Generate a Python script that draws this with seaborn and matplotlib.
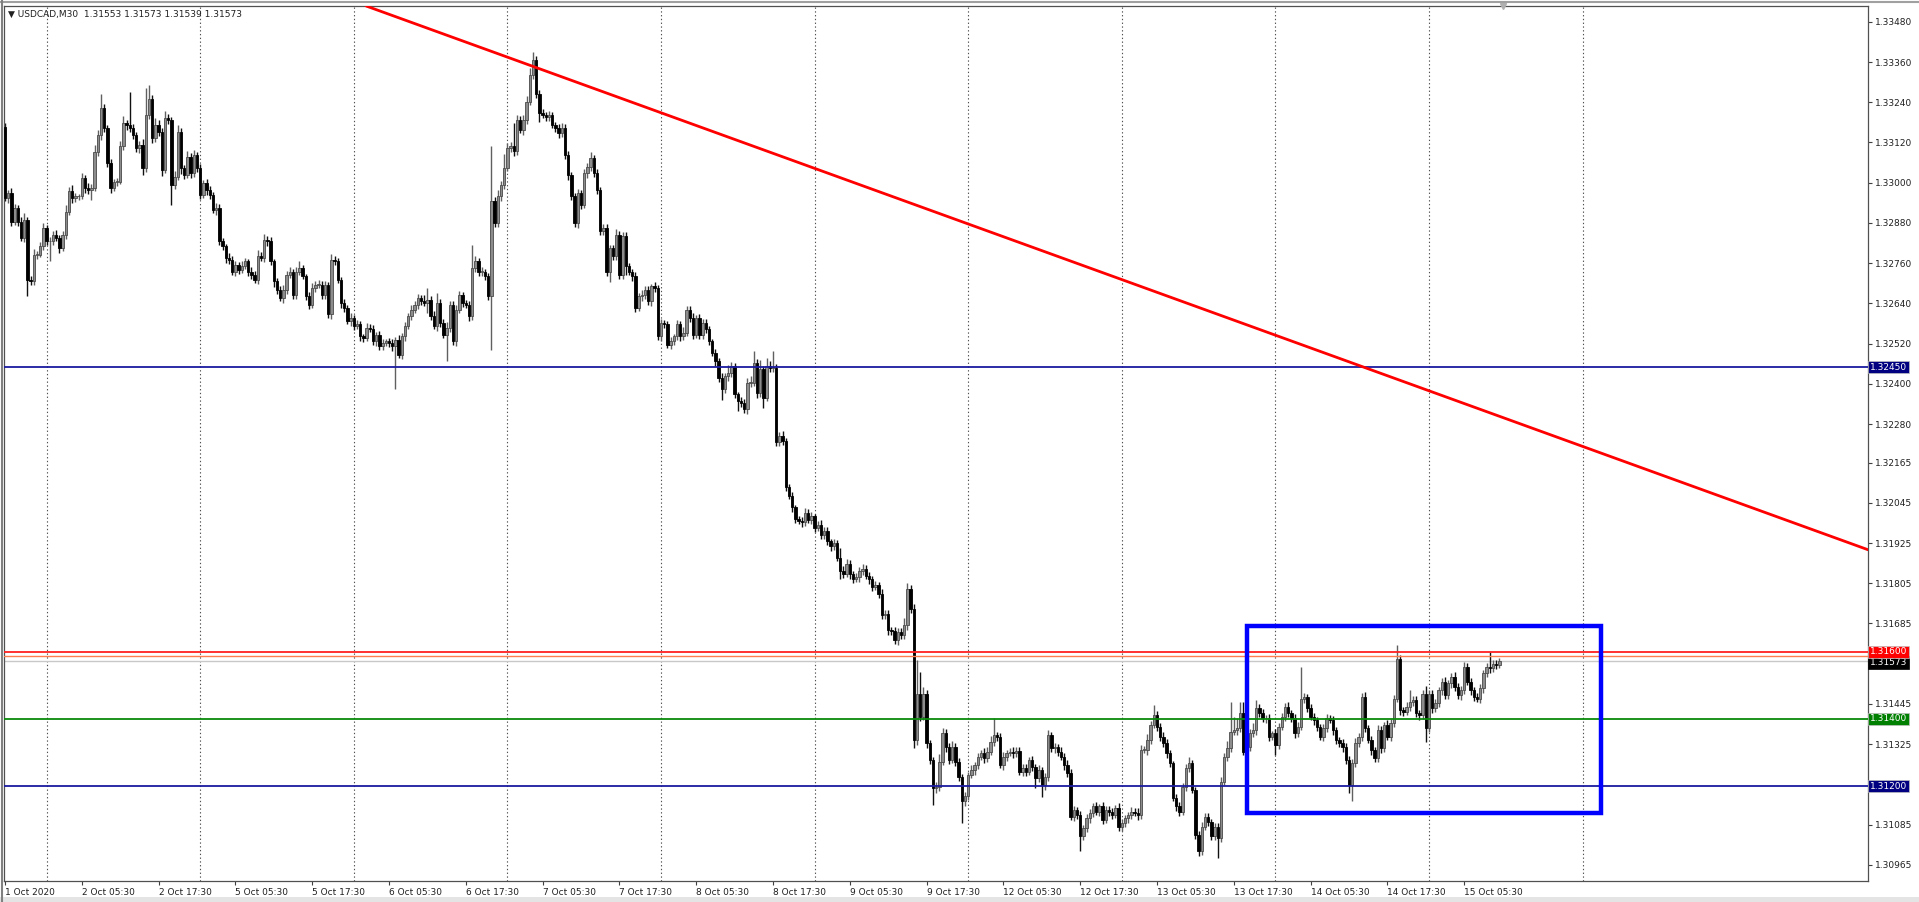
import numpy as np
import pandas as pd
import matplotlib
matplotlib.use("Agg")
import matplotlib.pyplot as plt
import matplotlib.transforms as mtransforms
from matplotlib.patches import Rectangle
import seaborn as sns

# prices are stored as points (1e-5) above 1.30000
BASE = 1.30000
PT = 1e-5
OPEN0 = 3167

CLOSE = [
    2954, 2969, 2884, 2924, 2884, 2835, 2889, 2711, 2706, 2785,
    2785, 2810, 2865, 2825, 2825, 2845, 2835, 2805, 2845, 2914,
    2974, 2954, 2959, 2959, 3013, 2984, 2979, 2984, 3093, 3142,
    3222, 3162, 3058, 2984, 3003, 3003, 3108, 3177, 3172, 3162,
    3142, 3103, 3113, 3043, 3202, 3251, 3132, 3172, 3152, 3038,
    3192, 3187, 2994, 3018, 3152, 3043, 3023, 3078, 3028, 3083,
    3043, 2964, 2998, 2979, 2964, 2919, 2924, 2825, 2810, 2775,
    2770, 2735, 2755, 2740, 2750, 2765, 2735, 2726, 2711, 2780,
    2775, 2830, 2825, 2765, 2706, 2681, 2656, 2681, 2726, 2735,
    2666, 2735, 2745, 2721, 2661, 2636, 2686, 2696, 2696, 2666,
    2696, 2607, 2770, 2765, 2711, 2641, 2626, 2587, 2597, 2572,
    2577, 2542, 2537, 2567, 2562, 2527, 2547, 2512, 2522, 2527,
    2522, 2512, 2532, 2487, 2542, 2572, 2602, 2621, 2636, 2656,
    2646, 2641, 2651, 2602, 2572, 2641, 2582, 2547, 2567, 2636,
    2527, 2621, 2666, 2641, 2636, 2602, 2745, 2765, 2735, 2735,
    2721, 2661, 2944, 2879, 2959, 2994, 3045, 3103, 3108, 3095,
    3187, 3157, 3187, 3241, 3321, 3365, 3266, 3207, 3202, 3197,
    3202, 3172, 3162, 3147, 3164, 3083, 3023, 2959, 2879, 2969,
    2934, 3028, 3048, 3073, 3028, 2979, 2855, 2864, 2735, 2805,
    2780, 2845, 2726, 2840, 2750, 2735, 2721, 2626, 2661, 2666,
    2681, 2646, 2691, 2686, 2542, 2582, 2577, 2517, 2527, 2542,
    2577, 2542, 2552, 2621, 2597, 2547, 2597, 2547, 2582, 2562,
    2527, 2493, 2468, 2418, 2383, 2423, 2433, 2453, 2369, 2349,
    2344, 2324, 2403, 2403, 2463, 2373, 2443, 2359, 2453, 2448,
    2448, 2225, 2245, 2230, 2091, 2066, 2031, 1997, 1992, 1987,
    2016, 1995, 2005, 1970, 1980, 1950, 1962, 1930, 1915, 1925,
    1880, 1843, 1833, 1863, 1833, 1818, 1823, 1843, 1848, 1828,
    1818, 1794, 1799, 1774, 1709, 1714, 1665, 1663, 1635, 1660,
    1650, 1680, 1789, 1729, 1337, 1476, 1407, 1476, 1327, 1278,
    1193, 1198, 1273, 1357, 1317, 1278, 1317, 1273, 1228, 1154,
    1169, 1233, 1248, 1263, 1288, 1298, 1283, 1303, 1332, 1352,
    1347, 1263, 1288, 1300, 1303, 1298, 1306, 1243, 1253, 1243,
    1278, 1258, 1223, 1248, 1203, 1228, 1352, 1313, 1317, 1303,
    1288, 1263, 1238, 1109, 1129, 1114, 1050, 1074, 1104, 1119,
    1139, 1124, 1139, 1099, 1129, 1124, 1114, 1134, 1079, 1089,
    1104, 1114, 1124, 1121, 1114, 1308, 1308, 1337, 1382, 1412,
    1377, 1347, 1327, 1298, 1268, 1164, 1139, 1124, 1198, 1253,
    1268, 1189, 1055, 1005, 1079, 1109, 1094, 1050, 1079, 1045,
    1213, 1288, 1313, 1362, 1367, 1372, 1417, 1303, 1317, 1357,
    1367, 1432, 1417, 1402, 1402, 1347, 1357, 1322, 1377, 1407,
    1437, 1417, 1402, 1357, 1377, 1461, 1466, 1432, 1407, 1397,
    1377, 1347, 1372, 1402, 1397, 1367, 1337, 1327, 1317, 1278,
    1203, 1268, 1327, 1347, 1466, 1372, 1337, 1308, 1283, 1367,
    1313, 1382, 1347, 1387, 1461, 1580, 1427, 1422, 1437, 1451,
    1456, 1417, 1412, 1476, 1372, 1476, 1432, 1447, 1486, 1511,
    1471, 1506, 1526, 1496, 1471, 1486, 1556, 1511, 1486, 1466,
    1461, 1491, 1536, 1556, 1551, 1565, 1560, 1573,
]

# upper / lower shadow length in points beyond the body
UPW = [
    10, 8, 15, 12, 10, 14, 20, 8, 12, 18, 10, 14, 16, 8, 12, 10, 15, 9, 12, 18,
    12, 20, 10, 8, 16, 10, 14, 12, 18, 15, 44, 12, 10, 14, 9, 12, 16, 22, 10, 100,
    14, 10, 12, 18, 80, 40, 12, 20, 15, 10, 22, 14, 8, 16, 20, 12, 10, 18, 12, 15,
    10, 12, 9, 14, 10, 8, 15, 12, 10, 8, 14, 10, 12, 9, 16, 10, 8, 12, 10, 18,
    12, 16, 10, 14, 8, 10, 12, 15, 10, 14, 8, 12, 20, 10, 8, 12, 16, 10, 14, 12,
    10, 8, 18, 12, 10, 8, 12, 10, 14, 8, 12, 10, 8, 14, 10, 12, 9, 10, 12, 8,
    10, 12, 8, 14, 10, 12, 9, 15, 10, 12, 8, 20, 35, 10, 14, 30, 12, 10, 16, 12,
    10, 14, 12, 8, 10, 12, 70, 15, 10, 12, 8, 10, 164, 14, 20, 12, 40, 16, 12, 70,
    14, 12, 16, 18, 20, 25, 12, 10, 14, 8, 12, 10, 9, 12, 14, 10, 12, 8, 10, 12,
    10, 14, 12, 18, 10, 12, 8, 14, 12, 10, 8, 16, 10, 12, 14, 10, 8, 12, 10, 14,
    12, 10, 8, 14, 10, 12, 9, 10, 14, 8, 12, 10, 16, 12, 10, 14, 8, 12, 10, 12,
    10, 8, 12, 10, 14, 10, 24, 12, 10, 8, 12, 10, 14, 20, 34, 12, 28, 10, 25, 14,
    49, 12, 10, 14, 8, 10, 12, 8, 10, 12, 14, 10, 12, 8, 10, 14, 12, 10, 8, 12,
    10, 30, 12, 14, 10, 8, 12, 10, 14, 12, 10, 8, 12, 10, 14, 10, 12, 8, 10, 12,
    12, 20, 18, 10, 14, 100, 65, 20, 12, 10, 8, 14, 22, 16, 12, 10, 18, 12, 10, 8,
    12, 10, 14, 8, 12, 10, 14, 12, 16, 50, 10, 12, 14, 8, 10, 12, 9, 10, 12, 14,
    10, 12, 8, 14, 10, 12, 14, 10, 12, 8, 12, 10, 14, 12, 10, 8, 12, 10, 14, 12,
    10, 12, 8, 14, 10, 12, 9, 10, 14, 12, 10, 8, 12, 10, 12, 14, 10, 18, 12, 29,
    12, 10, 14, 12, 10, 8, 12, 14, 10, 12, 18, 10, 8, 12, 14, 10, 12, 8, 12, 10,
    14, 12, 20, 90, 40, 30, 35, 34, 12, 14, 20, 24, 12, 14, 10, 12, 8, 14, 10, 12,
    12, 14, 10, 12, 14, 95, 12, 10, 14, 12, 10, 8, 12, 14, 10, 12, 8, 10, 12, 10,
    12, 14, 16, 10, 12, 14, 10, 12, 8, 14, 12, 10, 14, 12, 10, 40, 12, 10, 14, 35,
    12, 14, 10, 12, 22, 10, 12, 14, 10, 12, 14, 10, 12, 14, 10, 12, 14, 10, 12, 10,
    12, 14, 10, 12, 44, 10, 12, 8,
]
DNW = [
    10, 15, 12, 10, 14, 10, 12, 50, 12, 10, 14, 8, 12, 10, 60, 12, 10, 14, 10, 12,
    10, 14, 12, 10, 8, 14, 12, 30, 10, 12, 14, 10, 12, 16, 10, 12, 8, 10, 14, 12,
    12, 10, 14, 20, 10, 12, 14, 10, 12, 18, 10, 12, 60, 14, 10, 16, 12, 10, 14, 12,
    12, 14, 10, 16, 12, 10, 14, 12, 10, 16, 12, 10, 14, 12, 10, 8, 12, 14, 10, 12,
    10, 12, 14, 10, 16, 12, 10, 14, 12, 10, 14, 12, 10, 8, 12, 14, 10, 12, 10, 14,
    12, 10, 14, 12, 10, 16, 12, 10, 14, 12, 10, 14, 12, 10, 8, 12, 14, 10, 12, 10,
    12, 14, 129, 10, 12, 14, 10, 12, 10, 14, 12, 10, 30, 12, 10, 14, 12, 10, 80, 12,
    12, 14, 10, 12, 10, 14, 12, 10, 14, 12, 10, 12, 159, 12, 10, 14, 12, 10, 12, 14,
    12, 10, 14, 12, 10, 12, 14, 25, 10, 12, 14, 10, 12, 14, 10, 12, 14, 10, 12, 14,
    12, 10, 14, 12, 10, 14, 12, 10, 14, 30, 12, 10, 14, 12, 25, 10, 14, 12, 10, 14,
    12, 10, 14, 12, 10, 14, 12, 10, 14, 12, 10, 14, 12, 10, 12, 14, 10, 12, 14, 10,
    12, 10, 14, 12, 30, 10, 14, 12, 10, 30, 12, 10, 14, 12, 10, 14, 12, 30, 10, 12,
    14, 12, 10, 14, 12, 10, 14, 12, 10, 14, 12, 10, 14, 12, 10, 14, 12, 10, 14, 12,
    10, 25, 12, 10, 14, 12, 10, 14, 12, 10, 14, 12, 10, 14, 12, 10, 14, 12, 10, 14,
    12, 10, 14, 12, 25, 14, 12, 10, 14, 12, 49, 14, 12, 10, 14, 12, 10, 14, 12, 65,
    14, 12, 10, 14, 12, 10, 14, 12, 10, 14, 12, 10, 14, 12, 10, 14, 12, 10, 14, 12,
    10, 14, 30, 12, 35, 14, 12, 10, 14, 12, 10, 14, 12, 10, 14, 12, 45, 12, 10, 14,
    12, 10, 14, 12, 10, 14, 12, 10, 14, 12, 10, 14, 12, 10, 14, 12, 10, 14, 12, 10,
    14, 12, 10, 14, 12, 10, 14, 12, 10, 14, 12, 10, 14, 15, 12, 10, 14, 12, 10, 60,
    12, 10, 14, 12, 10, 14, 12, 10, 14, 12, 10, 14, 12, 10, 14, 12, 10, 30, 12, 10,
    14, 12, 10, 14, 12, 10, 14, 12, 10, 14, 12, 10, 14, 12, 10, 14, 12, 10, 14, 12,
    24, 49, 12, 10, 14, 12, 10, 14, 12, 10, 14, 12, 10, 14, 12, 10, 14, 12, 10, 14,
    12, 10, 14, 12, 40, 10, 14, 12, 10, 14, 12, 10, 14, 12, 10, 14, 12, 10, 14, 12,
    10, 14, 12, 10, 14, 12, 10, 8,
]

X_LABELS = ["1 Oct 2020", "2 Oct 05:30", "2 Oct 17:30", "5 Oct 05:30", "5 Oct 17:30",
            "6 Oct 05:30", "6 Oct 17:30", "7 Oct 05:30", "7 Oct 17:30", "8 Oct 05:30",
            "8 Oct 17:30", "9 Oct 05:30", "9 Oct 17:30", "12 Oct 05:30", "12 Oct 17:30",
            "13 Oct 05:30", "13 Oct 17:30", "14 Oct 05:30", "14 Oct 17:30", "15 Oct 05:30"]
X_LABEL_BARS = list(range(0, 457, 24))
DAY_START_BARS = list(range(13, 494, 48))

Y_TICKS = [1.33480, 1.33360, 1.33240, 1.33120, 1.33000, 1.32880, 1.32760, 1.32640,
           1.32520, 1.32400, 1.32280, 1.32165, 1.32045, 1.31925, 1.31805, 1.31685,
           1.31445, 1.31325, 1.31085, 1.30965]

LEVEL_PRICES = [1.32450, 1.31600, 1.31400, 1.31200]
LEVEL_COLORS = ["#1a1aa0", "#ff2020", "#0a8a0a", "#1a1aa0"]
LABEL_COLORS = ["#000080", "#ff0000", "#008000", "#000080"]
ORANGE_PRICE = 1.31588
BID_PRICE = 1.31573

TREND_BARS = [112.9, 582.2]
TREND_PRICES = [1.33527, 1.31905]
BOX_BARS = [388.0, 498.7]
BOX_PRICES = [1.31121, 1.31676]

HEADER = "\u25bc USDCAD,M30  1.31553 1.31573 1.31539 1.31573"

sns.set_theme(style="white")
plt.rcParams["font.family"] = ["DejaVu Sans"]

n = len(CLOSE)
df = pd.DataFrame({"bar": np.arange(n), "close": np.array(CLOSE) * PT + BASE})
df["open"] = df["close"].shift(1).fillna(OPEN0 * PT + BASE)
body_top = df[["open", "close"]].max(axis=1)
body_bot = df[["open", "close"]].min(axis=1)
df["high"] = body_top + np.array(UPW[:n]) * PT
df["low"] = body_bot - np.array(DNW[:n]) * PT
bull = df["close"] >= df["open"]

fig = plt.figure(figsize=(19.19, 9.02), dpi=100)
fig.patch.set_facecolor("white")
ax = fig.add_axes([4 / 1919, 21 / 902, 1864 / 1919, 875 / 902])
ax.set_facecolor("white")

# day separators
for b in DAY_START_BARS:
    ax.axvline(b, color="#505050", lw=0.8, ls=(0, (1.2, 2.2)), zorder=0)

# candles
for mask, wick_c, face_c, edge_c in [(bull, "#606060", "#8c8c8c", "#4a4a4a"),
                                     (~bull, "#101010", "#000000", "#000000")]:
    sub = df[mask]
    ax.vlines(sub["bar"], sub["low"], sub["high"], color=wick_c, lw=1.0, zorder=2)
    h = (sub[["open", "close"]].max(axis=1) - sub[["open", "close"]].min(axis=1)).clip(lower=1.2 * PT)
    ax.bar(sub["bar"], h, bottom=sub[["open", "close"]].min(axis=1), width=0.78,
           color=face_c, edgecolor=edge_c, linewidth=0.6, zorder=3)

# horizontal levels
for p, c in zip(LEVEL_PRICES, LEVEL_COLORS):
    ax.axhline(p, color=c, lw=1.3, zorder=4)
ax.axhline(ORANGE_PRICE, color="#ff7f50", lw=1.0, zorder=4)
ax.axhline(BID_PRICE, color="#c8c8c8", lw=1.0, zorder=1)

# trend line
sns.lineplot(x=TREND_BARS, y=TREND_PRICES, ax=ax, color="#ff0000", lw=2.0, zorder=5)

# range box
ax.add_patch(Rectangle((BOX_BARS[0], BOX_PRICES[0]), BOX_BARS[1] - BOX_BARS[0],
                       BOX_PRICES[1] - BOX_PRICES[0], fill=False, ec="#0000ff",
                       lw=3.2, joinstyle="miter", zorder=6))

ax.set_xlim(-0.3, 582.2)
ax.set_ylim(1.309167, 1.335271)

# axes styling
for s in ax.spines.values():
    s.set_color("#505050")
    s.set_linewidth(0.9)
ax.yaxis.tick_right()
ax.set_yticks(Y_TICKS)
ax.set_yticklabels([f"{v:.5f}" for v in Y_TICKS])
ax.set_xticks(X_LABEL_BARS)
ax.set_xticklabels(X_LABELS, ha="left")
ax.tick_params(axis="y", right=True, left=False, direction="out", length=3, width=0.8,
               color="#404040", labelsize=6.5, pad=2, labelcolor="#202020")
ax.tick_params(axis="x", bottom=True, direction="out", length=3, width=0.8,
               color="#404040", labelsize=6.5, pad=2, labelcolor="#202020")
ax.grid(False)
ax.set_xlabel("")
ax.set_ylabel("")
if ax.get_legend() is not None:
    ax.get_legend().remove()

# price labels on the right axis
trans = mtransforms.blended_transform_factory(ax.transAxes, ax.transData)
for p, c in zip(LEVEL_PRICES, LABEL_COLORS):
    ax.text(1.0012, p, f"{p:.5f}", transform=trans, color="white", fontsize=6.5,
            va="center", ha="left", clip_on=False, zorder=10,
            bbox=dict(boxstyle="square,pad=0.2", fc=c, ec="#c0c0c0", lw=0.5))
ax.text(1.0012, BID_PRICE - 0.00004, f"{BID_PRICE:.5f}", transform=trans, color="white",
        fontsize=6.5, va="center", ha="left", clip_on=False, zorder=9,
        bbox=dict(boxstyle="square,pad=0.2", fc="black", ec="black", lw=0.5))

# chart shift marker
ax.plot([df["bar"].iloc[-1] + 1], [1.335271], marker="v", ms=4, color="#b0b0b0",
        clip_on=False, zorder=7)

# header
fig.text(8 / 1919, 1 - 14 / 902, HEADER, fontsize=6.5, color="#202020", va="center", ha="left")

# window frame
fig.add_artist(plt.Line2D([0, 1], [1 - 2 / 902, 1 - 2 / 902], color="#a0a0a0", lw=1.5))
fig.add_artist(plt.Line2D([1.5 / 1919, 1.5 / 1919], [0, 1], color="#808080", lw=1.5))
fig.add_artist(Rectangle((0, 0), 1, 5 / 902, transform=fig.transFigure, fc="#e4e4e4",
                         ec="none"))

fig.savefig("out.png", dpi=100, facecolor="white")
